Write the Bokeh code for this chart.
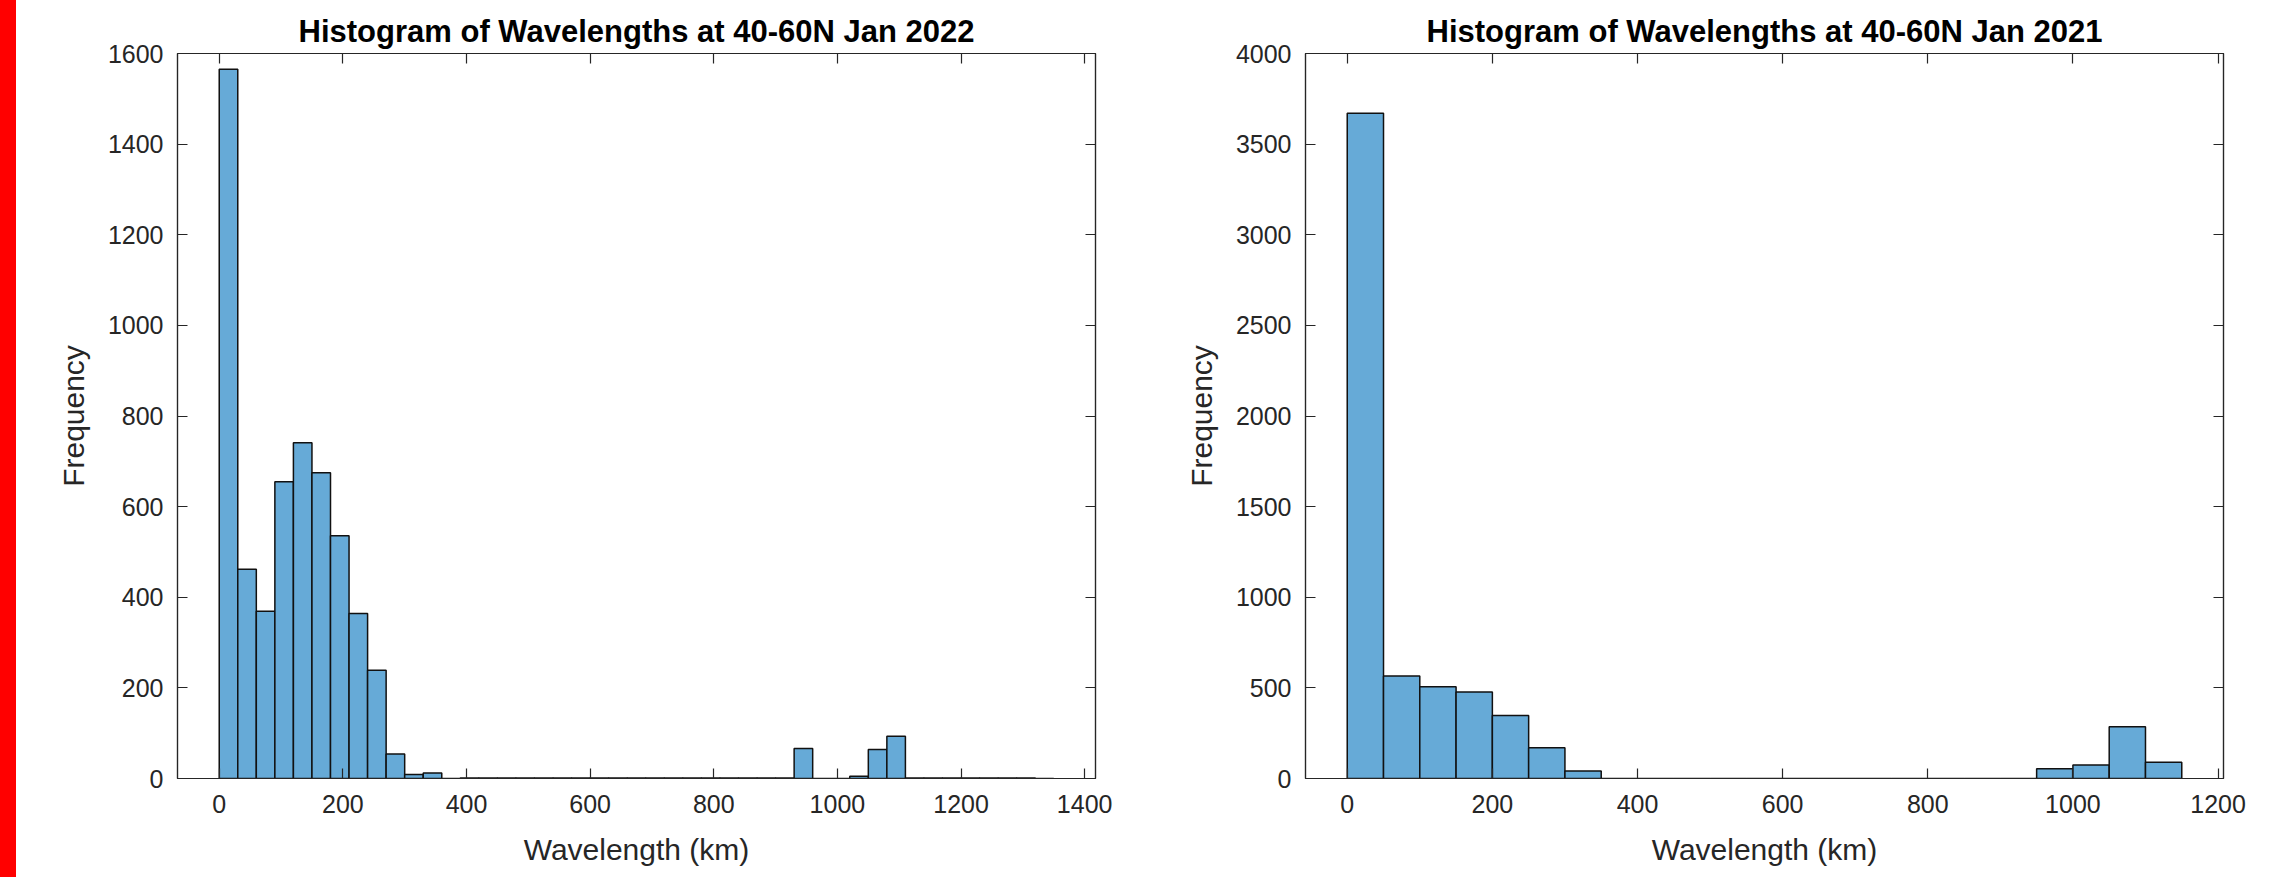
import numpy as np
from bokeh.plotting import figure
from bokeh.layouts import row
from bokeh.models import LinearAxis, FixedTicker, Range1d, Div
from bokeh.embed import file_html
from bokeh.resources import INLINE

# ---- data: Jan 2022 (30 km bins, starting at 0) ----
bin_width_2022 = 30
counts_2022 = [1565, 462, 369, 655, 741, 675, 536, 364, 239, 54, 9, 12, 0,
               1, 1, 1, 1, 1, 1, 1, 1, 1, 1, 1, 1, 1, 1, 1, 1, 1, 1,
               66, 0, 0, 5, 64, 93,
               1, 1, 1, 1, 1, 1, 1, 0]
xticks_2022 = [0, 200, 400, 600, 800, 1000, 1200, 1400]
yticks_2022 = [0, 200, 400, 600, 800, 1000, 1200, 1400, 1600]

# ---- data: Jan 2021 (50 km bins, starting at 0) ----
bin_width_2021 = 50
counts_2021 = [3670, 566, 506, 477, 347, 170, 41,
               0, 0, 0, 0, 0, 0, 0, 0, 0, 0, 0, 0,
               54, 75, 285, 90]
xticks_2021 = [0, 200, 400, 600, 800, 1000, 1200]
yticks_2021 = [0, 500, 1000, 1500, 2000, 2500, 3000, 3500, 4000]

FONT = "Liberation Sans"
AX = "#262626"
FILL = "#66AAD7"


def make(title, width, counts, xr, yr, xticks, yticks, mbl, mbr):
    edges = np.arange(len(counts) + 1) * width
    p = figure(frame_width=918, frame_height=725,
               x_range=Range1d(*xr), y_range=Range1d(*yr),
               output_backend="svg", toolbar_location=None,
               min_border_left=mbl, min_border_right=mbr,
               min_border_top=53, min_border_bottom=99,
               title=title)
    p.quad(left=edges[:-1], right=edges[1:], bottom=0, top=counts,
           fill_color=FILL, line_color="#111111", line_width=1.5)
    p.grid.visible = False
    p.outline_line_color = AX
    p.outline_line_width = 1.2
    p.background_fill_color = "white"
    p.border_fill_color = "white"

    p.title.text_font = FONT
    p.title.text_font_size = "31px"
    p.title.text_font_style = "bold"
    p.title.text_color = "black"
    p.title.align = "center"
    p.title.standoff = 9

    for ax, ticks in ((p.xaxis[0], xticks), (p.yaxis[0], yticks)):
        ax.ticker = FixedTicker(ticks=ticks)
        ax.major_tick_in = 10
        ax.major_tick_out = 0
        ax.minor_tick_line_color = None
        ax.axis_line_color = AX
        ax.axis_line_width = 1.2
        ax.major_tick_line_color = AX
        ax.major_tick_line_width = 1.2
        ax.major_label_text_font = FONT
        ax.major_label_text_font_size = "25px"
        ax.major_label_text_color = AX
        ax.axis_label_text_font = FONT
        ax.axis_label_text_font_size = "30px"
        ax.axis_label_text_font_style = "normal"
        ax.axis_label_text_color = AX
    p.xaxis[0].axis_label = "Wavelength (km)"
    p.yaxis[0].axis_label = "Frequency"
    p.xaxis[0].major_label_standoff = 16
    p.xaxis[0].axis_label_standoff = 17
    p.yaxis[0].major_label_standoff = 14
    p.yaxis[0].axis_label_standoff = 15

    for loc, ticks in (("above", xticks), ("right", yticks)):
        ax = LinearAxis(ticker=FixedTicker(ticks=ticks),
                        major_label_text_font_size="1px",
                        major_label_text_color=None,
                        major_label_standoff=0,
                        major_tick_in=10, major_tick_out=0,
                        minor_tick_line_color=None,
                        axis_line_color=AX, axis_line_width=1.2,
                        major_tick_line_color=AX, major_tick_line_width=1.2)
        p.add_layout(ax, loc)
    return p


p1 = make("Histogram of Wavelengths at 40-60N Jan 2022", bin_width_2022,
          counts_2022, (-67.5, 1417.5), (0, 1600), xticks_2022, yticks_2022,
          161, 86)
p2 = make("Histogram of Wavelengths at 40-60N Jan 2021", bin_width_2021,
          counts_2021, (-57.5, 1207.5), (0, 4000), xticks_2021, yticks_2021,
          106, 44)

red = Div(text="", width=24, height=877, margin=(0, 0, 0, -8),
          styles={"background-color": "#ff0000"})

layout = row(red, p1, p2)
open("out.html", "w").write(file_html(layout, INLINE))
